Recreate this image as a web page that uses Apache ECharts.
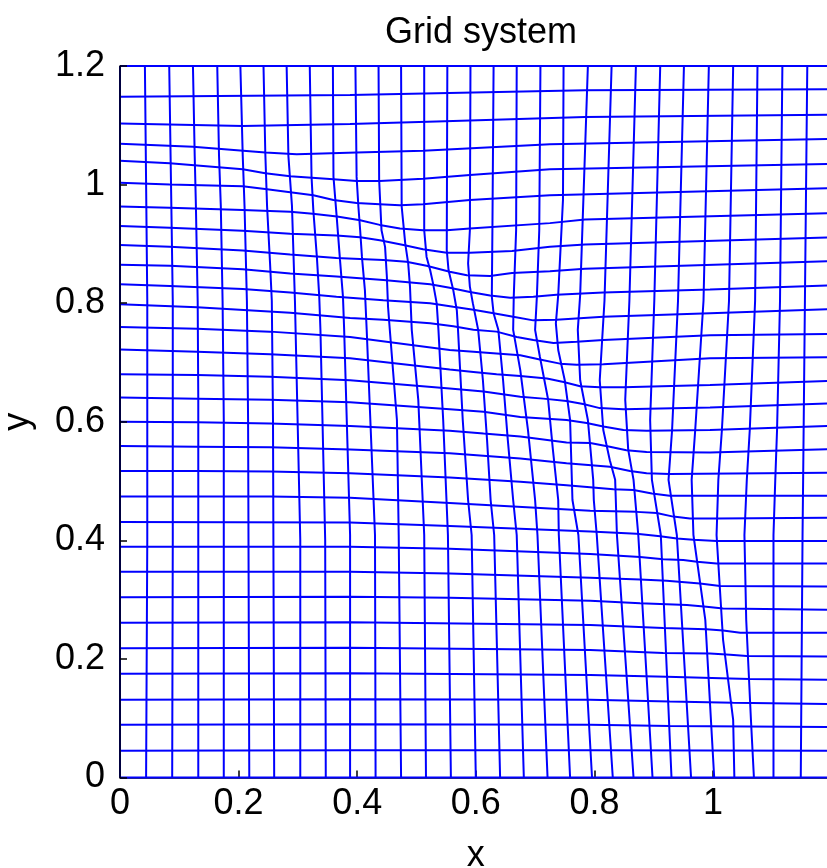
<!DOCTYPE html>
<html>
<head>
<meta charset="UTF-8">
<title>Grid system</title>
<script src="https://cdn.jsdelivr.net/npm/echarts@6/dist/echarts.min.js"></script>
<style>
  html, body { margin: 0; padding: 0; background: #fff; }
  #chart { width: 827px; height: 868px; }
</style>
</head>
<body>
<div id="chart"></div>
<script>
// tick labels
var xTicks = [0, 0.2, 0.4, 0.6, 0.8, 1];
var yTicks = [0, 0.2, 0.4, 0.6, 0.8, 1, 1.2];

// grid lines running left to right, top (y=1.2) to bottom (y=0), as [x, y] points
var hLines = [
  [[0,1.2],[1.2,1.2]],
  [[0,1.148],[0.388,1.151],[0.784,1.159],[1.2,1.161]],
  [[0,1.103],[0.207,1.099],[0.388,1.102],[0.548,1.107],[0.784,1.114],[1.2,1.118]],
  [[0,1.069],[0.123,1.064],[0.245,1.054],[0.298,1.051],[0.399,1.054],[0.511,1.057],[0.725,1.068],[1.2,1.077]],
  [[0,1.040],[0.084,1.036],[0.207,1.026],[0.245,1.019],[0.287,1.014],[0.360,1.009],[0.399,1.006],[0.438,1.006],[0.511,1.010],[0.590,1.016],[0.725,1.026],[1.2,1.035]],
  [[0,1.003],[0.084,1.000],[0.207,0.997],[0.248,0.992],[0.287,0.987],[0.326,0.982],[0.360,0.974],[0.399,0.969],[0.438,0.967],[0.472,0.965],[0.511,0.967],[0.590,0.974],[0.725,0.982],[1.2,0.994]],
  [[0,0.963],[0.084,0.961],[0.207,0.957],[0.287,0.954],[0.325,0.951],[0.366,0.946],[0.405,0.940],[0.438,0.932],[0.472,0.926],[0.511,0.923],[0.551,0.923],[0.590,0.926],[0.725,0.935],[0.784,0.941],[1.2,0.952]],
  [[0,0.930],[0.084,0.927],[0.207,0.922],[0.287,0.917],[0.365,0.914],[0.405,0.911],[0.438,0.906],[0.478,0.898],[0.511,0.891],[0.551,0.885],[0.590,0.885],[0.661,0.888],[0.725,0.895],[0.784,0.899],[1.2,0.911]],
  [[0,0.898],[0.084,0.895],[0.207,0.889],[0.287,0.882],[0.365,0.876],[0.444,0.873],[0.483,0.870],[0.517,0.863],[0.556,0.853],[0.585,0.847],[0.624,0.846],[0.661,0.851],[0.725,0.854],[0.784,0.858],[1.2,0.871]],
  [[0,0.865],[0.084,0.863],[0.207,0.857],[0.287,0.850],[0.365,0.845],[0.444,0.839],[0.523,0.832],[0.556,0.826],[0.590,0.819],[0.624,0.813],[0.658,0.809],[0.697,0.811],[0.736,0.814],[0.815,0.818],[0.995,0.823],[1.2,0.830]],
  [[0,0.832],[0.084,0.829],[0.207,0.824],[0.287,0.818],[0.365,0.811],[0.444,0.805],[0.523,0.800],[0.562,0.794],[0.596,0.789],[0.630,0.783],[0.663,0.777],[0.697,0.771],[0.736,0.772],[0.815,0.777],[0.995,0.783],[1.2,0.790]],
  [[0,0.798],[0.130,0.793],[0.287,0.784],[0.388,0.775],[0.444,0.772],[0.523,0.766],[0.562,0.761],[0.596,0.755],[0.635,0.752],[0.669,0.743],[0.697,0.738],[0.731,0.733],[0.770,0.735],[0.815,0.738],[0.995,0.746],[1.2,0.748]],
  [[0,0.760],[0.130,0.757],[0.253,0.752],[0.388,0.743],[0.556,0.721],[0.596,0.718],[0.635,0.715],[0.675,0.712],[0.708,0.705],[0.742,0.698],[0.770,0.696],[0.815,0.697],[0.995,0.707],[1.2,0.709]],
  [[0,0.722],[0.130,0.718],[0.253,0.714],[0.388,0.707],[0.556,0.688],[0.596,0.684],[0.635,0.680],[0.675,0.677],[0.720,0.673],[0.748,0.667],[0.776,0.660],[0.809,0.658],[0.849,0.658],[0.995,0.662],[1.2,0.669]],
  [[0,0.680],[0.130,0.679],[0.253,0.676],[0.388,0.670],[0.556,0.656],[0.613,0.651],[0.675,0.642],[0.714,0.639],[0.753,0.635],[0.781,0.630],[0.809,0.623],[0.849,0.621],[0.995,0.624],[1.2,0.631]],
  [[0,0.641],[0.130,0.639],[0.253,0.637],[0.388,0.633],[0.556,0.621],[0.613,0.617],[0.675,0.608],[0.753,0.603],[0.787,0.598],[0.815,0.592],[0.849,0.586],[0.888,0.585],[0.995,0.586],[1.2,0.593]],
  [[0,0.600],[0.130,0.599],[0.253,0.597],[0.388,0.593],[0.556,0.585],[0.613,0.580],[0.675,0.575],[0.753,0.565],[0.793,0.564],[0.826,0.558],[0.854,0.552],[0.888,0.549],[0.995,0.548],[1.2,0.554]],
  [[0,0.559],[0.130,0.558],[0.253,0.557],[0.388,0.553],[0.556,0.547],[0.675,0.538],[0.753,0.530],[0.826,0.524],[0.860,0.517],[0.888,0.513],[0.927,0.512],[1.2,0.514]],
  [[0,0.517],[0.130,0.517],[0.253,0.516],[0.388,0.513],[0.556,0.506],[0.675,0.499],[0.753,0.493],[0.832,0.486],[0.866,0.485],[0.897,0.479],[0.927,0.475],[0.961,0.475],[1.2,0.475]],
  [[0,0.474],[0.253,0.474],[0.388,0.472],[0.556,0.463],[0.793,0.450],[0.871,0.448],[0.905,0.446],[0.933,0.440],[0.961,0.437],[1.006,0.437],[1.2,0.438]],
  [[0,0.431],[0.388,0.430],[0.556,0.424],[0.793,0.415],[0.871,0.411],[0.911,0.407],[0.939,0.403],[0.967,0.401],[1.006,0.399],[1.2,0.399]],
  [[0,0.389],[0.388,0.389],[0.556,0.386],[0.793,0.377],[0.877,0.372],[0.916,0.368],[0.950,0.367],[0.973,0.364],[1.006,0.361],[1.2,0.361]],
  [[0,0.347],[0.388,0.347],[0.556,0.344],[0.793,0.337],[0.877,0.334],[0.922,0.332],[0.978,0.327],[1.012,0.323],[1.2,0.322]],
  [[0,0.304],[0.388,0.305],[0.556,0.303],[0.793,0.298],[0.877,0.294],[0.956,0.291],[0.989,0.288],[1.017,0.285],[1.2,0.283]],
  [[0,0.261],[0.388,0.262],[0.793,0.257],[0.916,0.252],[0.989,0.250],[1.017,0.248],[1.046,0.244],[1.2,0.244]],
  [[0,0.218],[0.388,0.219],[0.793,0.215],[0.916,0.210],[0.995,0.209],[1.029,0.207],[1.057,0.205],[1.2,0.204]],
  [[0,0.175],[0.388,0.176],[0.793,0.173],[0.922,0.170],[1.029,0.167],[1.062,0.166],[1.2,0.165]],
  [[0,0.131],[0.388,0.132],[0.793,0.131],[0.927,0.128],[1.034,0.126],[1.2,0.124]],
  [[0,0.089],[0.388,0.090],[0.793,0.089],[0.927,0.087],[1.2,0.085]],
  [[0,0.045],[0.388,0.046],[0.793,0.046],[1.2,0.045]],
  [[0,0],[1.2,0]]
];

// grid lines running top to bottom, left (x=0) to right (x=1.2)
var vLines = [
  [[0,1.2],[0,0]],
  [[0.042,1.2],[0.044,1.003],[0.046,0.804],[0.046,0.401],[0.044,0]],
  [[0.083,1.2],[0.086,1.003],[0.089,0.804],[0.089,0.401],[0.088,0]],
  [[0.123,1.2],[0.126,1.048],[0.128,0.964],[0.131,0.804],[0.132,0.637],[0.132,0]],
  [[0.164,1.2],[0.167,1.048],[0.170,0.964],[0.173,0.804],[0.175,0.603],[0.175,0]],
  [[0.203,1.2],[0.207,1.048],[0.210,0.964],[0.214,0.804],[0.216,0.603],[0.218,0]],
  [[0.242,1.2],[0.245,1.054],[0.248,0.964],[0.253,0.868],[0.256,0.804],[0.258,0.603],[0.260,0]],
  [[0.281,1.2],[0.284,1.048],[0.290,0.964],[0.295,0.804],[0.304,0.401],[0.304,0]],
  [[0.320,1.2],[0.323,1.013],[0.326,0.957],[0.332,0.878],[0.336,0.811],[0.338,0.755],[0.346,0.401],[0.347,0]],
  [[0.359,1.2],[0.360,1.013],[0.365,0.951],[0.371,0.873],[0.376,0.811],[0.378,0.755],[0.388,0.409],[0.388,0]],
  [[0.397,1.2],[0.399,1.013],[0.402,0.963],[0.405,0.923],[0.408,0.878],[0.413,0.822],[0.416,0.755],[0.430,0.409],[0.431,0]],
  [[0.436,1.2],[0.437,1.008],[0.441,0.923],[0.447,0.895],[0.450,0.845],[0.452,0.794],[0.455,0.755],[0.467,0.603],[0.470,0.409],[0.474,0]],
  [[0.474,1.2],[0.475,0.963],[0.481,0.901],[0.486,0.867],[0.489,0.828],[0.492,0.755],[0.503,0.637],[0.513,0.409],[0.516,0]],
  [[0.513,1.2],[0.513,0.923],[0.517,0.878],[0.523,0.856],[0.528,0.833],[0.534,0.800],[0.537,0.755],[0.545,0.603],[0.553,0.409],[0.558,0]],
  [[0.552,1.2],[0.551,0.890],[0.554,0.856],[0.562,0.822],[0.568,0.788],[0.570,0.755],[0.578,0.603],[0.587,0.468],[0.593,0.409],[0.600,0]],
  [[0.591,1.2],[0.590,0.923],[0.587,0.867],[0.590,0.828],[0.595,0.800],[0.604,0.755],[0.612,0.670],[0.619,0.569],[0.625,0.468],[0.631,0.409],[0.641,0]],
  [[0.630,1.2],[0.628,0.923],[0.627,0.811],[0.630,0.783],[0.638,0.755],[0.646,0.670],[0.654,0.569],[0.663,0.468],[0.669,0.409],[0.681,0]],
  [[0.669,1.2],[0.668,0.923],[0.664,0.811],[0.663,0.755],[0.675,0.687],[0.688,0.586],[0.700,0.468],[0.704,0.409],[0.721,0]],
  [[0.709,1.2],[0.707,0.923],[0.703,0.811],[0.700,0.755],[0.708,0.710],[0.722,0.637],[0.730,0.553],[0.739,0.468],[0.740,0.409],[0.759,0]],
  [[0.748,1.2],[0.747,0.974],[0.739,0.814],[0.735,0.766],[0.739,0.721],[0.750,0.670],[0.759,0.603],[0.763,0.468],[0.773,0.409],[0.796,0]],
  [[0.789,1.2],[0.776,0.814],[0.772,0.755],[0.776,0.670],[0.789,0.603],[0.798,0.502],[0.799,0.468],[0.804,0.409],[0.831,0]],
  [[0.829,1.2],[0.817,0.804],[0.809,0.670],[0.815,0.586],[0.826,0.535],[0.835,0.502],[0.838,0.409],[0.866,0]],
  [[0.870,1.2],[0.859,0.804],[0.852,0.637],[0.857,0.553],[0.866,0.502],[0.874,0.409],[0.898,0]],
  [[0.911,1.2],[0.901,0.804],[0.894,0.603],[0.897,0.502],[0.912,0.409],[0.930,0]],
  [[0.951,1.2],[0.941,0.804],[0.931,0.586],[0.925,0.502],[0.939,0.409],[0.963,0]],
  [[0.993,1.2],[0.984,0.804],[0.970,0.586],[0.964,0.502],[0.967,0.409],[0.987,0.266],[1.002,0]],
  [[1.034,1.2],[1.027,0.804],[1.015,0.586],[1.009,0.502],[1.006,0.409],[1.017,0.232],[1.034,0.097],[1.036,0]],
  [[1.075,1.2],[1.071,0.804],[1.062,0.586],[1.057,0.502],[1.053,0.409],[1.056,0.266],[1.064,0.097],[1.069,0]],
  [[1.117,1.2],[1.113,0.804],[1.108,0.586],[1.105,0.502],[1.102,0.409],[1.102,0]],
  [[1.159,1.2],[1.155,0.804],[1.152,0.502],[1.151,0.409],[1.148,0]],
  [[1.2,1.2],[1.2,0]]
];

var chart = echarts.init(document.getElementById('chart'));

var series = [];
hLines.concat(vLines).forEach(function (pts) {
  series.push({
    type: 'line',
    data: pts,
    symbol: 'none',
    silent: true,
    clip: false,
    lineStyle: { color: '#0000ff', width: 2 }
  });
});

var font = 'Liberation Sans, Arial, Helvetica, sans-serif';

var option = {
  animation: false,
  backgroundColor: '#ffffff',
  title: {
    text: 'Grid system',
    left: 476,
    top: 10,
    textAlign: 'center',
    textStyle: { fontFamily: font, fontSize: 36, fontWeight: 'normal', color: '#000' }
  },
  grid: { left: 120, top: 66, right: -4.6, bottom: 90.5, containLabel: false, outerBoundsMode: 'none' },
  xAxis: {
    type: 'value',
    min: 0, max: 1.2, interval: 0.2,
    name: 'x', nameLocation: 'middle', nameGap: 61,
    nameTextStyle: { fontFamily: font, fontSize: 36, color: '#000' },
    axisLine: { show: true, lineStyle: { color: '#000', width: 1.5 } },
    axisTick: { show: true, inside: true, length: 7, lineStyle: { color: '#000', width: 1.5 } },
    axisLabel: {
      showMaxLabel: false, margin: 9,
      fontFamily: font, fontSize: 36, color: '#000',
      formatter: function (v) { return xTicks.indexOf(+v.toFixed(1)) >= 0 ? String(+v.toFixed(1)) : ''; }
    },
    splitLine: { show: false }
  },
  yAxis: {
    type: 'value',
    min: 0, max: 1.2, interval: 0.2,
    z: 10,
    name: 'y', nameLocation: 'middle', nameGap: 84,
    nameTextStyle: { fontFamily: font, fontSize: 36, color: '#000' },
    axisLine: { show: true, lineStyle: { color: '#000', width: 1.5 } },
    axisTick: { show: true, inside: true, length: 7, lineStyle: { color: '#000', width: 1.5 } },
    axisLabel: {
      margin: 15,
      fontFamily: font, fontSize: 36, color: '#000',
      formatter: function (v) { return yTicks.indexOf(+v.toFixed(1)) >= 0 ? String(+v.toFixed(1)) : ''; }
    },
    splitLine: { show: false }
  },
  series: series
};

chart.setOption(option);
</script>
</body>
</html>
